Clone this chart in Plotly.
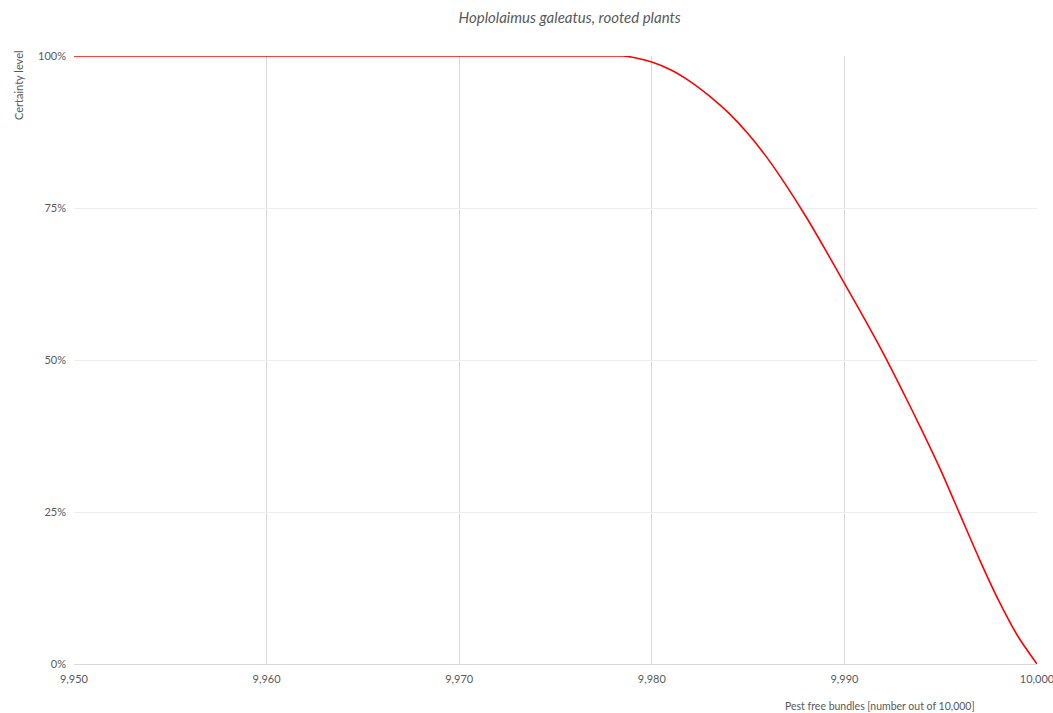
import plotly.graph_objects as go

x_vals = [9950, 9960, 9970, 9975, 9977, 9978, 9978.5, 9979, 9980, 9981, 9982, 9983,
          9984, 9985, 9986, 9987, 9988, 9989, 9990, 9991, 9992, 9993, 9994,
          9995, 9996, 9997, 9998, 9999, 10000]
certainty = [100, 100, 100, 100, 100, 100, 100, 99.8, 99.0, 97.7, 95.8, 93.4,
             90.6, 87.2, 83.2, 78.6, 73.6, 68.2, 62.6, 57.0, 51.2, 45.0, 38.6,
             31.9, 24.6, 17.3, 10.5, 4.6, 0]

x_ticks = [9950, 9960, 9970, 9980, 9990, 10000]
x_tick_labels = ["9,950", "9,960", "9,970", "9,980", "9,990", "10,000"]
y_ticks = [0, 25, 50, 75, 100]
y_tick_labels = ["0%", "25%", "50%", "75%", "100%"]

title_text = "Hoplolaimus galeatus, rooted plants"
x_title = "Pest free bundles [number out of 10,000]"
y_title = "Certainty level"

font_family = "Lato, 'Open Sans', sans-serif"
grey = "#595959"

fig = go.Figure()
fig.add_trace(go.Scatter(
    x=x_vals, y=[v / 100 for v in certainty], mode="lines",
    line=dict(color="#ff0000", width=1.6, shape="spline", smoothing=0.8),
    showlegend=False, hoverinfo="x+y",
))

fig.update_layout(
    width=1053, height=713,
    margin=dict(l=74, r=16, t=56, b=49, autoexpand=False),
    paper_bgcolor="white", plot_bgcolor="white",
    font=dict(family=font_family, color=grey, size=11),
    title=dict(text="<i>" + title_text + "</i>", x=0.541, xanchor="center",
               xref="container", yref="container",
               y=1 - 18 / 713, yanchor="middle", automargin=False,
               font=dict(size=15, color=grey, family=font_family)),
    xaxis=dict(range=[9950, 10000], tickmode="array", tickvals=x_ticks,
               ticktext=x_tick_labels, showgrid=True, gridcolor="#d9d9d9",
               gridwidth=1, zeroline=False, showline=True, linecolor="#d9d9d9",
               linewidth=1, ticks="", automargin=False, ticklabelstandoff=5,
               ticklabeloverflow="allow",
               tickfont=dict(size=11, color=grey)),
    yaxis=dict(range=[0, 1], tickmode="array", tickvals=[v / 100 for v in y_ticks],
               ticktext=y_tick_labels, showgrid=True, gridcolor="#eeeeee",
               gridwidth=1, zeroline=False, showline=False, ticks="",
               automargin=False, ticklabelstandoff=7,
               ticklabeloverflow="allow",
               tickfont=dict(size=11, color=grey)),
    annotations=[
        dict(text=y_title, xref="paper", yref="paper", x=0, y=1,
             xshift=-56, yshift=8,
             xanchor="center", yanchor="top", textangle=-90, showarrow=False,
             font=dict(size=11, color=grey, family=font_family)),
        dict(text=x_title, xref="paper", yref="paper", x=(977 - 74) / 963, y=0,
             yshift=-42,
             xanchor="right", yanchor="middle", showarrow=False,
             font=dict(size=10.5, color=grey, family=font_family)),
    ],
)

fig.write_html(
    "out.html",
    config={"displayModeBar": False},
    post_script="document.body.style.margin='0';document.body.style.overflow='hidden';",
)
